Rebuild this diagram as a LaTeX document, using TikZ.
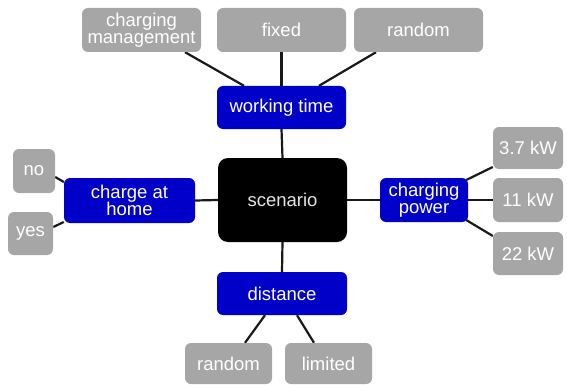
\documentclass[tikz,border=0pt]{standalone}
\usepackage{fontspec}
\setmainfont{Liberation Sans}
\usetikzlibrary{calc,backgrounds}
\definecolor{boxblue}{RGB}{0,0,200}
\definecolor{boxgray}{RGB}{166,166,166}
\tikzset{
  base/.style={rectangle, rounded corners=6pt, inner sep=0pt, align=center,
    font=\fontsize{18.5}{17.5}\selectfont, text=white},
  graybox/.style={base, fill=boxgray},
  bluebox/.style={base, fill=boxblue},
  centerbox/.style={base, fill=black, rounded corners=10pt, text=white!90!black},
  link/.style={line width=2.2pt, draw=black!90}
}
\begin{document}
\begin{tikzpicture}[x=1pt,y=-1pt]
\path[use as bounding box] (0,0) rectangle (567,385);
% top
\node[graybox, minimum width=119pt, minimum height=44pt] (cm) at (141.5,30) {charging\\management};
\node[graybox, minimum width=129pt, minimum height=44pt] (fixed) at (281.5,30) {fixed};
\node[graybox, minimum width=129pt, minimum height=44pt] (rnda) at (418.5,30) {random};
\node[bluebox, minimum width=129pt, minimum height=43pt] (wt) at (281.5,107.5) {working time};
% center
\node[centerbox, minimum width=129pt, minimum height=84pt] (scen) at (282.5,200) {scenario};
% left
\node[bluebox, minimum width=131pt, minimum height=45pt] (cah) at (129.5,200.5) {charge at\\home};
\node[graybox, minimum width=42pt, minimum height=44pt] (no) at (34,171) {no};
\node[graybox, minimum width=45pt, minimum height=43pt] (yes) at (30.5,233.5) {yes};
% right
\node[bluebox, minimum width=88pt, minimum height=44pt] (cp) at (424,200) {charging\\power};
\node[graybox, minimum width=70pt, minimum height=42pt] (kwa) at (528,148) {3.7 kW};
\node[graybox, minimum width=70pt, minimum height=44pt] (kwb) at (528,200) {11 kW};
\node[graybox, minimum width=70pt, minimum height=43pt] (kwc) at (528,253.5) {22 kW};
% bottom
\node[bluebox, minimum width=130pt, minimum height=43pt] (dist) at (282,293.5) {distance};
\node[graybox, minimum width=87pt, minimum height=41pt] (rndb) at (228.5,363.5) {random};
\node[graybox, minimum width=87pt, minimum height=41pt] (lim) at (328.5,363.5) {limited};
\begin{scope}[on background layer]
\draw[link] ($(wt.north)+(-37.5,0)$) -- ($(cm.south)+(43.5,0)$);
\draw[link] (wt.north) -- (fixed.south);
\draw[link] ($(wt.north)+(37.5,0)$) -- ($(rnda.south)+(-42.5,0)$);
\draw[link] (wt.south) -- (scen.north);
\draw[link] (scen.south) -- (dist.north);
\draw[link] ($(dist.south)+(-17,0)$) -- ($(rndb.north)+(16.5,0)$);
\draw[link] ($(dist.south)+(15,0)$) -- ($(lim.north)+(-14.5,0)$);
\draw[link] (cah.east) -- (scen.west);
\draw[link] ($(no.east)+(0,6)$) -- ($(cah.west)+(0,-18.5)$);
\draw[link] ($(yes.east)+(0,-6.5)$) -- ($(cah.west)+(0,21.5)$);
\draw[link] (scen.east) -- (cp.west);
\draw[link] ($(cp.east)+(-2,-20)$) -- ($(kwa.west)+(0,19)$);
\draw[link] (cp.east) -- (kwb.west);
\draw[link] ($(cp.east)+(-2,20)$) -- ($(kwc.west)+(0,-17.5)$);
\end{scope}
\end{tikzpicture}
\end{document}
